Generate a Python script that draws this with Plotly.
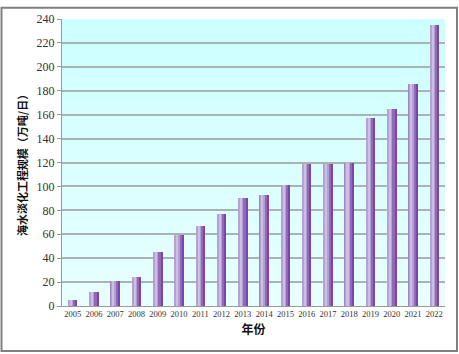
import plotly.graph_objects as go

years = ["2005", "2006", "2007", "2008", "2009", "2010", "2011", "2012", "2013",
         "2014", "2015", "2016", "2017", "2018", "2019", "2020", "2021", "2022"]
capacity = [5, 12, 21, 24, 45, 59, 67, 77, 90, 93, 101, 119, 119, 120, 157, 165, 186, 235]
y_ticks = [0, 20, 40, 60, 80, 100, 120, 140, 160, 180, 200, 220, 240]

y_title = "海水淡化工程规模（万吨/日）"
x_title = "年份"

W, H = 459, 354
ML, MR, MT, MB = 62, 14, 13, 48
PW, PH = W - ML - MR, H - MT - MB

fig = go.Figure()

# layered bars to mimic the cylinder-like gradient
layers = [
    (-0.225, 0.45, "#9c86c2"),
    (-0.19, 0.06, "#b3a2d2"),
    (-0.13, 0.12, "#cdbfe2"),
    (-0.01, 0.06, "#b3a0d2"),
    (0.05, 0.08, "#9168ba"),
    (0.13, 0.095, "#7c45ad"),
]
for off, wid, col in layers:
    fig.add_trace(go.Bar(
        x=years, y=capacity, offset=off, width=wid,
        marker=dict(color=col, line=dict(width=0)),
        showlegend=False, hoverinfo="x+y",
    ))

# plot-area vertical gradient background
n = 30
top = (204, 255, 255)
bot = (232, 255, 255)
for i in range(n):
    t = i / (n - 1)
    c = tuple(round(top[k] + (bot[k] - top[k]) * t) for k in range(3))
    fig.add_shape(type="rect", xref="x domain", yref="y domain",
                  x0=0, x1=1, y0=1 - (i + 1) / n, y1=1 - i / n,
                  fillcolor="rgb(%d,%d,%d)" % c, line=dict(width=0), layer="below")

# outer border
fig.add_shape(type="rect", xref="paper", yref="paper",
              x0=(1.5 - ML) / PW, x1=(457 - ML) / PW,
              y0=(H - MB - 352) / PH, y1=(H - MB - 1.5) / PH,
              line=dict(color="#808080", width=2), fillcolor="rgba(0,0,0,0)", layer="above")

fig.update_layout(
    width=W, height=H,
    margin=dict(l=ML, r=MR, t=MT, b=MB),
    paper_bgcolor="white",
    plot_bgcolor="#ddffff",
    barmode="overlay",
    bargap=0,
    font=dict(family="Liberation Serif", color="#222"),
    xaxis=dict(
        type="category",
        tickfont=dict(size=8.5, family="Liberation Serif", color="#333"),
        showgrid=False, showline=True, linecolor="#999", linewidth=1,
        ticks="", range=[-0.5, 17.5],
        title=dict(text=x_title, font=dict(family="Noto Sans CJK SC", size=12, color="#111",
                                           weight="bold"),
                   standoff=7),
    ),
    yaxis=dict(
        range=[0, 240], tickvals=y_ticks,
        tickfont=dict(size=12, family="Liberation Serif", color="#333"),
        showgrid=True, gridcolor="#a8b4b4", gridwidth=1.5,
        showline=True, linecolor="#999", linewidth=1,
        ticks="outside", ticklen=4, tickcolor="#999",
        zeroline=False,
        title=dict(text=y_title, font=dict(family="Noto Sans CJK SC", size=11, color="#111",
                                           weight="bold"),
                   standoff=6),
    ),
)

fig.write_html("out.html")
